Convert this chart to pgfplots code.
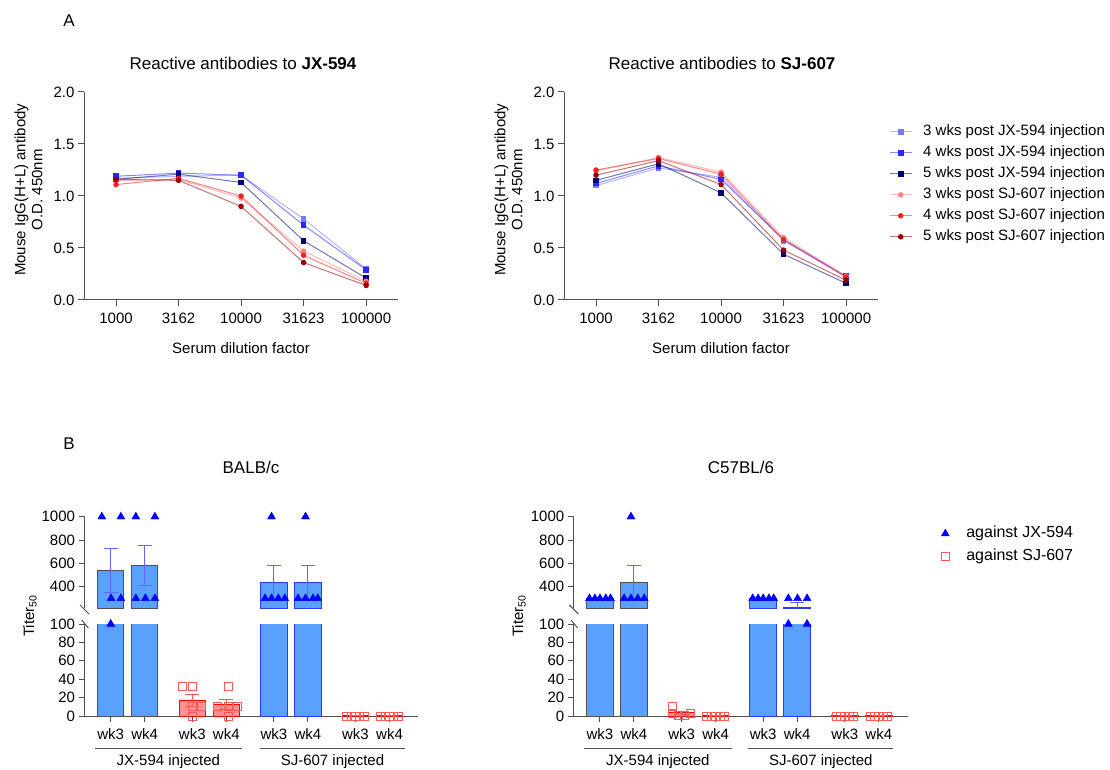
\documentclass[border=0pt]{standalone}
\usepackage{fontspec}
\setmainfont{Liberation Sans}
\usepackage{pgfplots}
\pgfplotsset{compat=1.18}

\newcommand\fs{\fontsize{15}{17}\selectfont}
\newcommand\fl{\fontsize{16}{18}\selectfont}
\newcommand\ft{\fontsize{17}{19}\selectfont}

\definecolor{jxa}{RGB}{120,120,255}
\definecolor{jxb}{RGB}{40,40,255}
\definecolor{jxc}{RGB}{0,0,120}
\definecolor{sja}{RGB}{255,130,130}
\definecolor{sjb}{RGB}{255,30,30}
\definecolor{sjc}{RGB}{150,0,0}
\definecolor{barblue}{RGB}{90,160,255}
\definecolor{barred}{RGB}{255,125,125}
\definecolor{edgeblue}{RGB}{40,60,255}
\definecolor{errblue}{RGB}{100,100,255}
\definecolor{errred}{RGB}{255,90,90}
\definecolor{axgray}{RGB}{80,80,80}

\pgfplotsset{
  base/.style={scale only axis, axis x line*=bottom, axis y line*=left,
    axis line style={axgray, line width=1pt}, tick style={axgray, line width=1pt},
    tick align=outside, major tick length=6pt, tick label style={font=\fs},
    xticklabel style={yshift=-3pt},
    label style={font=\fs}, /pgf/number format/assume math mode=true,
    /pgf/number format/1000 sep={}},
  lineax/.style={base, width=314pt, height=208pt, xmin=-0.512, xmax=4.51, ymin=0, ymax=2,
    xtick={0,...,4}, xticklabels={1000,3162,10000,31623,100000},
    ytick={0,0.5,1,1.5,2},
    yticklabel style={/pgf/number format/.cd, fixed, fixed zerofill, precision=1},
    xlabel={Serum dilution factor},
    xlabel style={at={(axis description cs:0.5,-0.231)}, anchor=center},
    ylabel={Mouse IgG(H+L) antibody\\O.D. 450nm},
    ylabel style={align=center, at={(axis description cs:-0.177,0.53)}, anchor=center}},
  ser/.style={color=#1, line width=1pt, draw opacity=0.55,
    mark options={solid, draw opacity=1, fill opacity=1}},
  jx/.style={ser=#1, mark=square*, mark size=2.3pt},
  sj/.style={ser=#1, mark=*, mark size=2.2pt},
  barax/.style={base, width=333.9pt, xmin=-0.77, xmax=9.05},
  upper/.style={barax, height=91.6pt, ymin=215, ymax=1000, ytick={400,600,800,1000},
    axis x line=none},
  lower/.style={barax, height=92pt, ymin=0, ymax=100, ytick={0,20,...,100},
    xtick={0,1,2.4,3.4,4.8,5.8,7.2,8.2},
    xticklabels={wk3,wk4,wk3,wk4,wk3,wk4,wk3,wk4}},
  bb/.style={ybar, bar width=0.78, bar shift=0pt, fill=barblue, draw=#1, line width=1pt},
  rb/.style={ybar, bar width=0.78, bar shift=0pt, fill=barred, fill opacity=0.85,
    draw=red, line width=1pt},
  eb/.style={error bars/y dir=both, error bars/y explicit,
    error bars/error bar style={#1, line width=1pt},
    error bars/error mark options={rotate=90, mark size=7pt, #1, line width=1pt}},
  tri/.style={only marks, mark=triangle*, mark size=4.6pt, color=blue},
  sq/.style={only marks, mark=square, mark size=4pt, color=errred,
    mark options={draw=errred, line width=0.9pt}},
}

\begin{document}
\begin{tikzpicture}[x=1pt,y=1pt]
\path[use as bounding box] (0,0) rectangle (1110,769);

% ---------- A: JX-594 ----------
\begin{axis}[lineax, at={(84pt,469pt)}, anchor=south west]
\addplot[jx=jxa] coordinates {(0,1.17) (1,1.19) (2,1.20) (3,0.78) (4,0.30)};
\addplot[jx=jxb] coordinates {(0,1.19) (1,1.22) (2,1.20) (3,0.72) (4,0.29)};
\addplot[jx=jxc] coordinates {(0,1.16) (1,1.21) (2,1.13) (3,0.57) (4,0.21)};
\addplot[sj=sja] coordinates {(0,1.15) (1,1.16) (2,0.98) (3,0.47) (4,0.18)};
\addplot[sj=sjb] coordinates {(0,1.11) (1,1.17) (2,1.00) (3,0.43) (4,0.16)};
\addplot[sj=sjc] coordinates {(0,1.16) (1,1.15) (2,0.90) (3,0.36) (4,0.14)};
\end{axis}

% ---------- A: SJ-607 ----------
\begin{axis}[lineax, at={(564pt,469pt)}, anchor=south west,
  legend cell align=left,
  legend image code/.code={\draw[mark repeat=2,mark phase=2] plot coordinates {(0pt,0pt) (11pt,0pt) (22pt,0pt)};},
  legend style={at={(axis description cs:1.035,0.848)}, anchor=north west, draw=none, fill=none,
    inner sep=0pt, font=\fs, row sep=5pt, nodes={inner sep=1pt, text height=11pt, text depth=3pt},
    /tikz/every odd column/.append style={column sep=10pt}}]
\addplot[jx=jxa] coordinates {(0,1.10) (1,1.27) (2,1.18) (3,0.57) (4,0.22)};
\addlegendentry{3 wks post JX-594 injection}
\addplot[jx=jxb] coordinates {(0,1.12) (1,1.29) (2,1.16) (3,0.58) (4,0.23)};
\addlegendentry{4 wks post JX-594 injection}
\addplot[jx=jxc] coordinates {(0,1.15) (1,1.31) (2,1.03) (3,0.44) (4,0.16)};
\addlegendentry{5 wks post JX-594 injection}
\addplot[sj=sja] coordinates {(0,1.24) (1,1.37) (2,1.23) (3,0.60) (4,0.23)};
\addlegendentry{3 wks post SJ-607 injection}
\addplot[sj=sjb] coordinates {(0,1.25) (1,1.36) (2,1.21) (3,0.58) (4,0.22)};
\addlegendentry{4 wks post SJ-607 injection}
\addplot[sj=sjc] coordinates {(0,1.20) (1,1.34) (2,1.11) (3,0.48) (4,0.19)};
\addlegendentry{5 wks post SJ-607 injection}
\end{axis}

% ---------- B: BALB/c ----------
\begin{axis}[upper, at={(84.5pt,160.7pt)}, anchor=south west]
\addplot[bb=axgray, eb=errblue] coordinates {(0,540) +- (0,191) (1,580) +- (0,171.5)};
\addplot[bb=edgeblue, eb=errblue] coordinates {(4.8,440) +- (0,140) (5.8,440) +- (0,140)};
\addplot[tri] coordinates {
(-0.26,1000) (0.30,1000) (0.01,300) (0.30,300)
(0.74,1000) (1.30,1000) (0.74,300) (1.02,300) (1.30,300)
(4.73,1000) (4.54,300) (4.73,300) (4.93,300) (5.12,300)
(5.73,1000) (5.51,300) (5.73,300) (5.95,300) (6.09,300)};
\end{axis}
\begin{axis}[lower, at={(84.5pt,53pt)}, anchor=south west]
\addplot[bb=axgray] coordinates {(0,540) (1,580)};
\addplot[bb=edgeblue] coordinates {(4.8,440) (5.8,440)};
\addplot[rb, eb=errred] coordinates {(2.4,16.8) +- (0,6.5) (3.4,12.4) +- (0,5.3) (7.2,0.5) +- (0,0) (8.2,0.5) +- (0,0)};
\addplot[tri] coordinates {(0,100)};
\addplot[sq] coordinates {
(2.12,32) (2.4,32) (2.4,10) (2.66,10) (2.4,0)
(3.45,32) (3.14,10) (3.45,10) (3.74,10) (3.45,0)
(6.94,0) (7.07,0) (7.2,0) (7.33,0) (7.46,0)
(7.94,0) (8.07,0) (8.2,0) (8.33,0) (8.46,0)};
\end{axis}

% ---------- B: C57BL/6 ----------
\begin{axis}[upper, at={(573.8pt,160.7pt)}, anchor=south west,
  legend cell align=left,
  legend image code/.code={\draw[#1] plot coordinates {(0pt,0pt)};},
  legend style={at={(axis description cs:1.1,0.915)}, anchor=north west, draw=none, fill=none,
    inner sep=0pt, font=\fl, row sep=5pt, nodes={inner sep=1pt, text height=12pt, text depth=4pt},
    /tikz/every odd column/.append style={column sep=16pt}}]
\addplot[forget plot, bb=axgray, eb=errblue] coordinates {(0,300) +- (0,0) (1,440) +- (0,140)};
\addplot[forget plot, bb=edgeblue, eb=errblue] coordinates {(4.8,300) +- (0,0) (5.8,220) +- (0,49)};
\addplot[forget plot, tri] coordinates {
(-0.31,300) (-0.15,300) (0,300) (0.17,300) (0.31,300)
(0.91,1000) (0.71,300) (0.91,300) (1.11,300) (1.30,300)
(4.49,300) (4.65,300) (4.8,300) (4.97,300) (5.11,300)
(5.54,300) (5.81,300) (6.09,300)};
\addlegendimage{tri}
\addlegendentry{against JX-594}
\addlegendimage{sq}
\addlegendentry{against SJ-607}
\end{axis}
\begin{axis}[lower, at={(573.8pt,53pt)}, anchor=south west]
\addplot[bb=axgray] coordinates {(0,300) (1,440)};
\addplot[bb=edgeblue] coordinates {(4.8,300) (5.8,220)};
\addplot[rb, eb=errred] coordinates {(2.4,3.7) +- (0,1.7) (3.4,0.5) +- (0,0) (7.2,0.5) +- (0,0) (8.2,0.5) +- (0,0)};
\addplot[tri] coordinates {(5.54,100) (6.09,100)};
\addplot[sq] coordinates {
(2.14,10) (2.14,3.2) (2.3,1) (2.47,1) (2.65,3.2)
(3.14,0) (3.27,0) (3.4,0) (3.53,0) (3.66,0)
(6.94,0) (7.07,0) (7.2,0) (7.33,0) (7.46,0)
(7.94,0) (8.07,0) (8.2,0) (8.33,0) (8.46,0)};
\end{axis}

% ---------- texts and decorations ----------
\node[font=\ft] at (69,748) {A};
\node[font=\ft] at (243,706) {Reactive antibodies to \textbf{JX-594}};
\node[font=\ft] at (722,706) {Reactive antibodies to \textbf{SJ-607}};
\node[font=\ft] at (69,325) {B};
\node[font=\ft] at (251,301.5) {BALB/c};
\node[font=\ft] at (741,301.5) {C57BL/6};
\node[font=\fs, rotate=90] at (30,153) {Titer\textsubscript{50}};
\node[font=\fs, rotate=90] at (519,153) {Titer\textsubscript{50}};

\begin{scope}[axgray, line width=1pt]
\foreach \dx in {0,489.3} {
  \draw (80+\dx,164) -- (89+\dx,155);
  \draw (81.7+\dx,149) -- (88.3+\dx,141);
}
\draw (95,20.7) -- (241.7,20.7);
\draw (260,20.7) -- (405,20.7);
\draw (584,20.7) -- (731.7,20.7);
\draw (748.3,20.7) -- (893.3,20.7);
\end{scope}
\node[font=\fs] at (168.4,7.5) {JX-594 injected};
\node[font=\fs] at (332.5,7.5) {SJ-607 injected};
\node[font=\fs] at (657.9,7.5) {JX-594 injected};
\node[font=\fs] at (820.8,7.5) {SJ-607 injected};
\end{tikzpicture}
\end{document}
